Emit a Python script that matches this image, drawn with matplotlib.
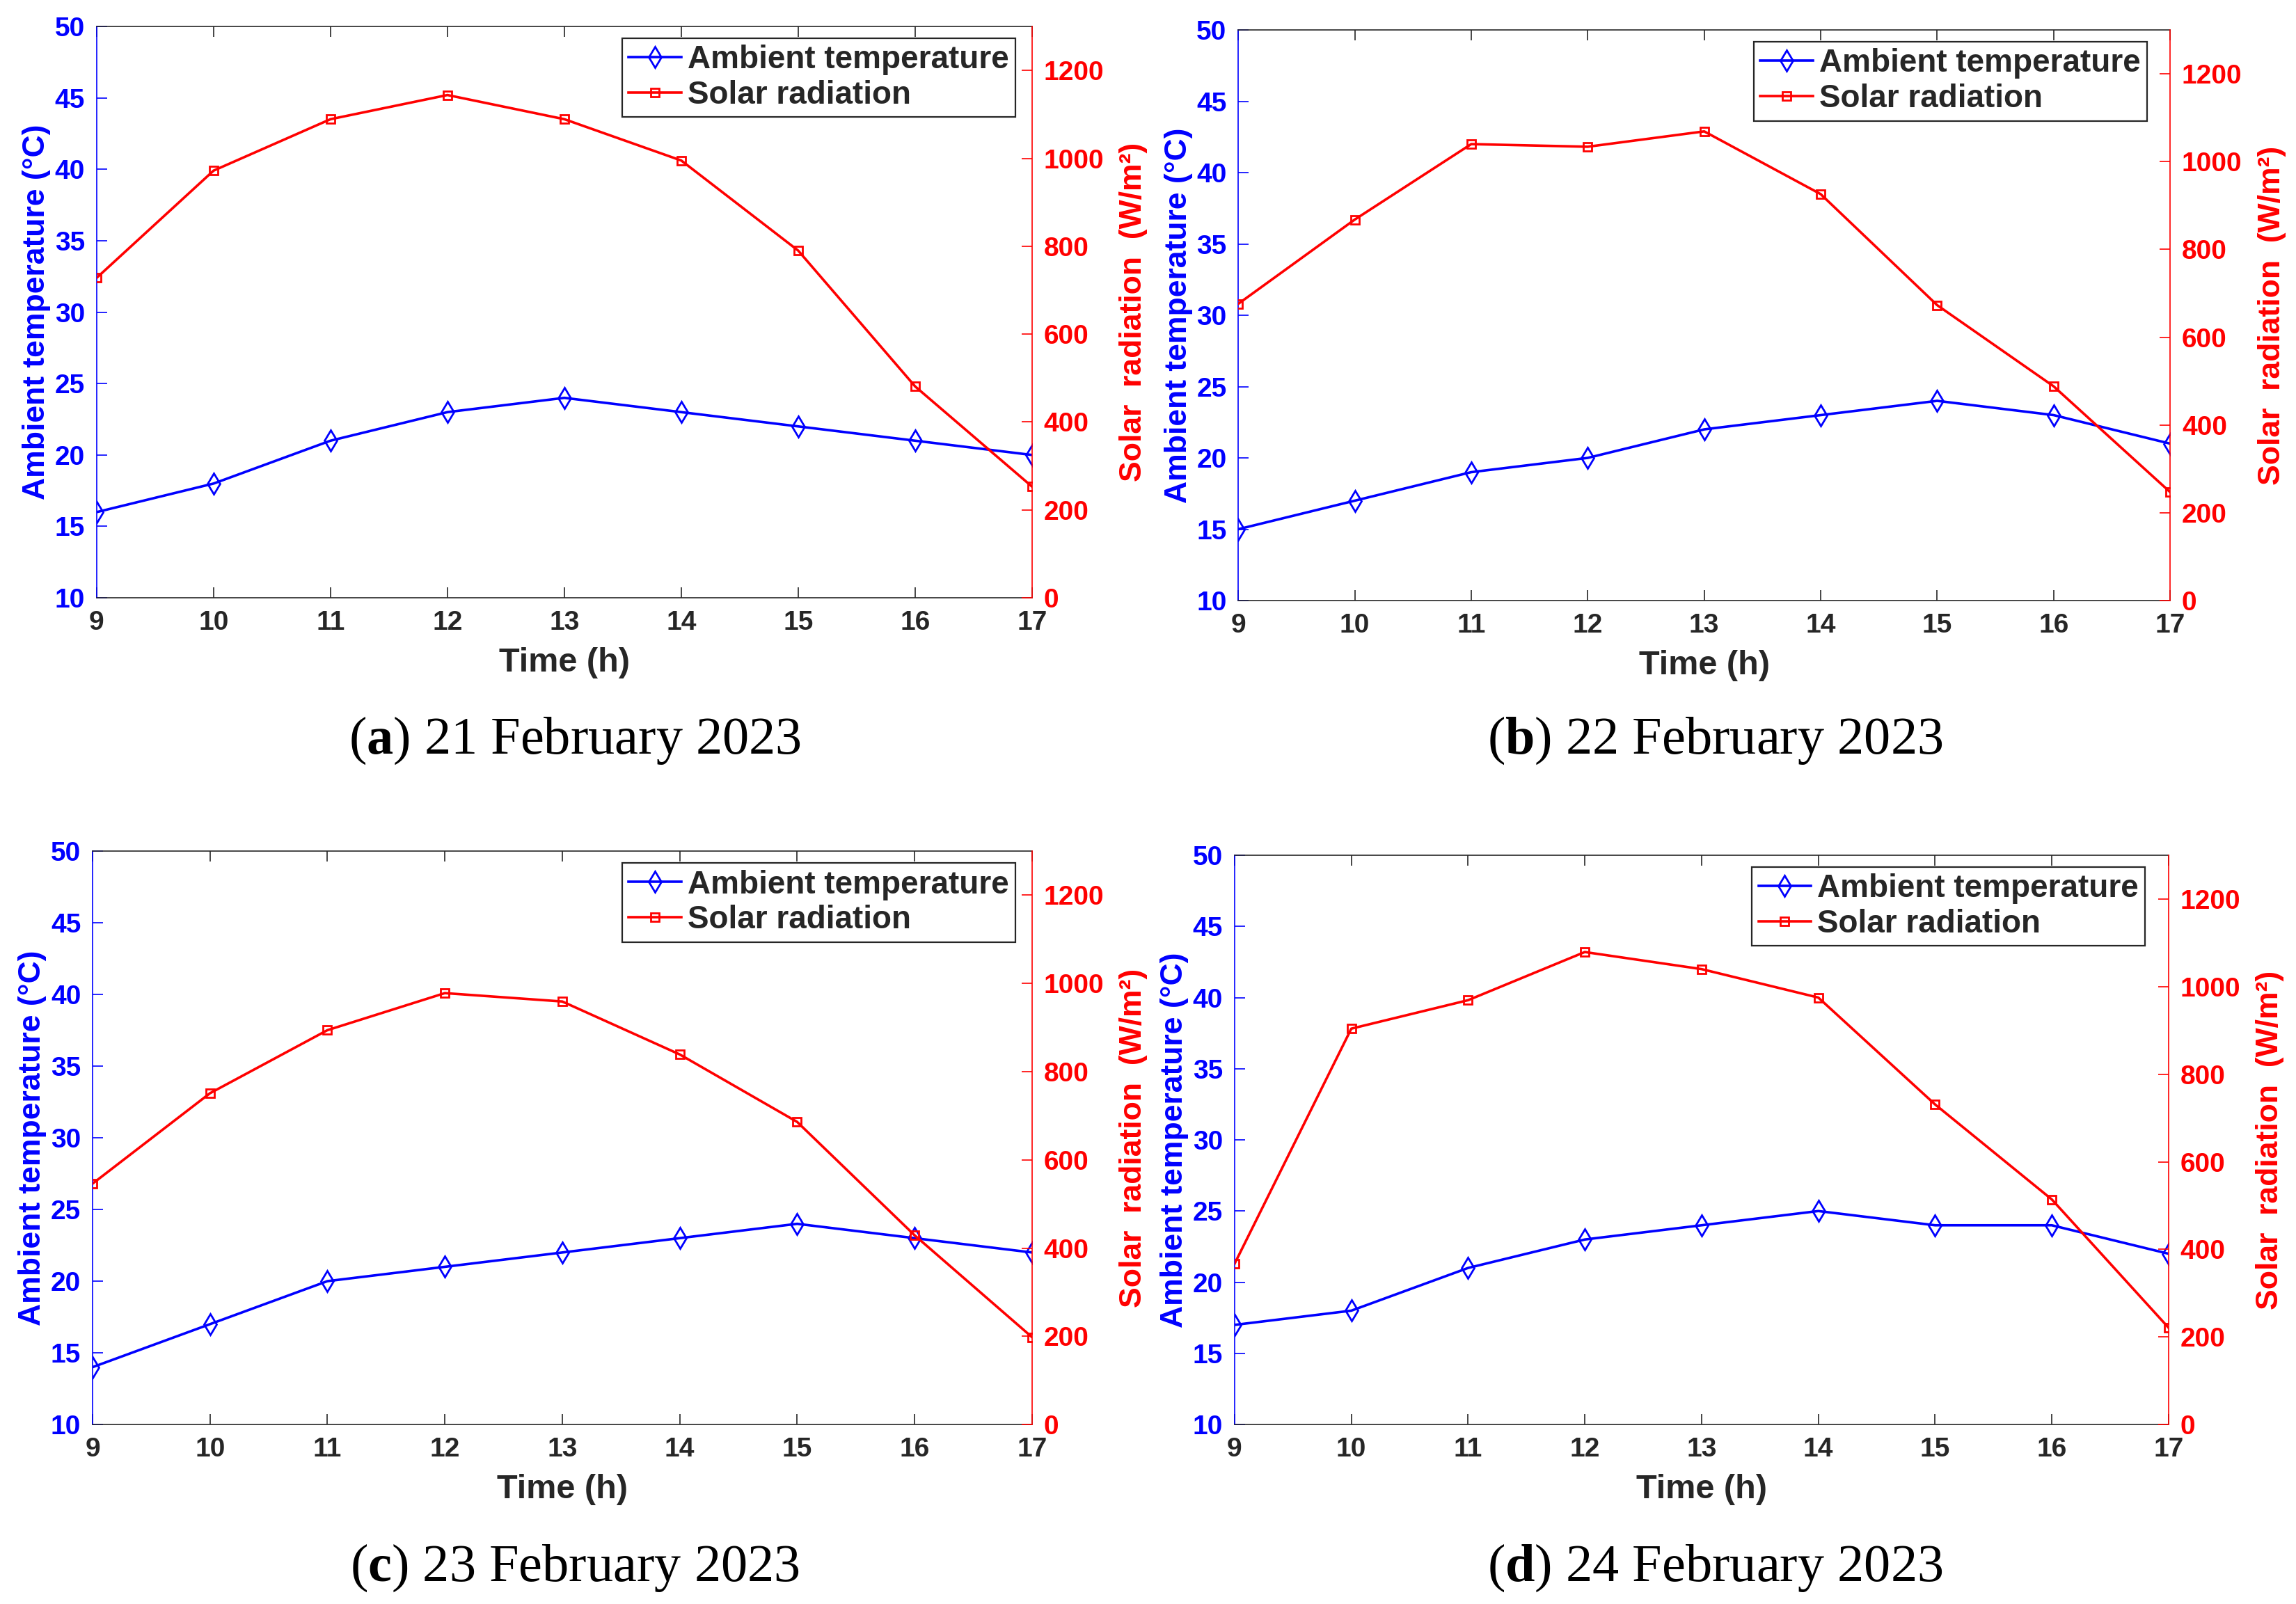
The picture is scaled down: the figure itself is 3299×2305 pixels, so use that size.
import matplotlib
matplotlib.use('Agg')
import matplotlib.pyplot as plt

plt.rcParams['font.family'] = ['Liberation Sans', 'DejaVu Sans']
plt.rcParams['font.weight'] = 'bold'
plt.rcParams['mathtext.fontset'] = 'custom'
plt.rcParams['mathtext.rm'] = 'Liberation Serif'
plt.rcParams['mathtext.bf'] = 'Liberation Serif:bold'

# data
hours = [9, 10, 11, 12, 13, 14, 15, 16, 17]

temp_a = [16, 18, 21, 23, 24, 23, 22, 21, 20]
solar_a = [728, 972, 1089, 1144, 1089, 995, 790, 481, 253]

temp_b = [15, 17, 19, 20, 22, 23, 24, 23, 21]
solar_b = [676, 868, 1040, 1034, 1069, 926, 673, 488, 247]

temp_c = [14, 17, 20, 21, 22, 23, 24, 23, 22]
solar_c = [546, 751, 894, 978, 959, 839, 686, 429, 198]

temp_d = [17, 18, 21, 23, 24, 25, 24, 24, 22]
solar_d = [367, 904, 969, 1079, 1040, 975, 731, 514, 221]

letters = ['a', 'b', 'c', 'd']
dates = ['21 February 2023', '22 February 2023', '23 February 2023', '24 February 2023']
temps = [temp_a, temp_b, temp_c, temp_d]
solars = [solar_a, solar_b, solar_c, solar_d]

# axes boxes [left, bottom, width, height] and caption centres
boxes = [[0.0421, 0.6273, 0.4074, 0.3562],
         [0.5393, 0.6256, 0.4059, 0.3557],
         [0.0403, 0.1119, 0.4092, 0.3575],
         [0.5377, 0.1119, 0.4068, 0.3549]]
caps = [(0.2504, 0.5385), (0.747, 0.5385), (0.2504, 0.0225), (0.747, 0.0225)]
legend_x = [0.982, 0.975, 0.982, 0.975]

blue = '#0000FF'
red = '#FF0000'
dark = '#262626'

fig = plt.figure(figsize=(16.495, 11.525), dpi=200)

for i in range(4):
    ax = fig.add_axes(boxes[i])
    ax2 = ax.twinx()

    l1, = ax.plot(hours, temps[i], color=blue, lw=1.3, marker='d', ms=7.5,
                  mfc='none', mec=blue, mew=1.0, label='Ambient temperature')
    l2, = ax2.plot(hours, solars[i], color=red, lw=1.3, marker='s', ms=4.5,
                   mfc='none', mec=red, mew=1.0, label='Solar radiation')

    ax.set_xlim(9, 17)
    ax.set_ylim(10, 50)
    ax2.set_ylim(0, 1300)
    ax.set_xticks(hours)
    ax.set_yticks(range(10, 51, 5))
    ax2.set_yticks(range(0, 1201, 200))

    for s in ['top', 'bottom']:
        ax.spines[s].set_color(dark)
        ax.spines[s].set_linewidth(0.6)
    ax.spines['left'].set_color(blue)
    ax.spines['left'].set_linewidth(0.6)
    ax.spines['right'].set_visible(False)
    for s in ['left', 'top', 'bottom']:
        ax2.spines[s].set_visible(False)
    ax2.spines['right'].set_color(red)
    ax2.spines['right'].set_linewidth(0.6)

    ax.tick_params(axis='x', direction='in', top=True, length=5.4, width=0.6,
                   color=dark, labelcolor=dark, labelsize=14, pad=6.5)
    ax.tick_params(axis='y', direction='in', length=5.4, width=0.6,
                   color=blue, labelcolor=blue, labelsize=14, pad=6)
    ax2.tick_params(axis='y', direction='in', length=5.4, width=0.6,
                    color=red, labelcolor=red, labelsize=14, pad=6)

    ax.set_xlabel('Time (h)', fontsize=17.5, fontweight='bold', color=dark, labelpad=6)
    ax.set_ylabel('Ambient temperature (°C)', fontsize=16, fontweight='bold',
                  color=blue, labelpad=2)
    ax2.set_ylabel('Solar  radiation  (W/m²)', fontsize=16, fontweight='bold',
                   color=red, labelpad=8)

    leg = ax2.legend(handles=[l1, l2], loc='upper right',
                     bbox_to_anchor=(legend_x[i], 0.979),
                     borderaxespad=0, fancybox=False, framealpha=1,
                     edgecolor=dark, prop={'size': 16.5, 'weight': 'bold'},
                     handlelength=1.65, handletextpad=0.2, borderpad=0.2,
                     labelspacing=0.15, markerscale=1.0)
    leg.get_frame().set_linewidth(0.8)
    for t in leg.get_texts():
        t.set_color(dark)

    fig.text(caps[i][0], caps[i][1], r'($\mathbf{' + letters[i] + '}$) ' + dates[i],
             ha='center', va='center', fontsize=27.5, fontweight='normal',
             family='Liberation Serif', color='black')

fig.savefig('out.png', dpi=200)
